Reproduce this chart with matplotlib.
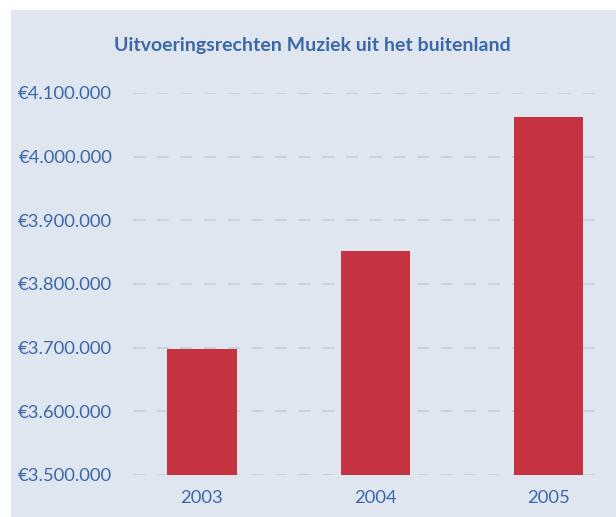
import matplotlib
matplotlib.use("Agg")
import matplotlib.pyplot as plt
from matplotlib.patches import Rectangle

years = ["2003", "2004", "2005"]
values = [3698000, 3852000, 4063000]
yticks = [3500000, 3600000, 3700000, 3800000, 3900000, 4000000, 4100000]
title = "Uitvoeringsrechten Muziek uit het buitenland"

bg = "#e0e6f0"
txt = "#3b68a6"
bar_c = "#c4333f"
grid_c = "#c3cfe1"

plt.rcParams['font.family'] = ['Lato', 'DejaVu Sans']

W, H = 616, 517
fig = plt.figure(figsize=(W/100, H/100), dpi=100)
fig.patch.set_facecolor("white")
fig.patches.append(Rectangle((11/W, 0), 1 - 11/W, (H-10)/H, transform=fig.transFigure,
                             facecolor=bg, edgecolor="none", zorder=-10))

ax = fig.add_axes([133/W, (H-475)/H, (599-133)/W, (475-93)/H])
ax.set_facecolor("none")
x = list(range(len(years)))
ax.bar(x, values, width=0.40, color=bar_c, zorder=3)
ax.set_ylim(3500000, 4100000)
ax.set_xlim(-0.398, 2.292)
ax.set_yticks(yticks)
ax.set_yticklabels(["€" + f"{v:,}".replace(",", ".") for v in yticks])
ax.set_xticks(x)
ax.set_xticklabels(years)
for v in yticks:
    ax.axhline(v, color=grid_c, lw=1.2, dashes=(7.2, 7.0), zorder=1)
for s in ax.spines.values():
    s.set_visible(False)
ax.tick_params(axis='y', length=0, pad=15, labelsize=13.3, labelcolor=txt)
ax.tick_params(axis='x', length=0, pad=11, labelsize=13.3, labelcolor=txt)

fig.text(312/W, 1 - 45/H, title, ha="center", va="center", fontsize=14,
         fontweight="bold", color=txt)

fig.savefig("out.png", dpi=100, facecolor="white")
